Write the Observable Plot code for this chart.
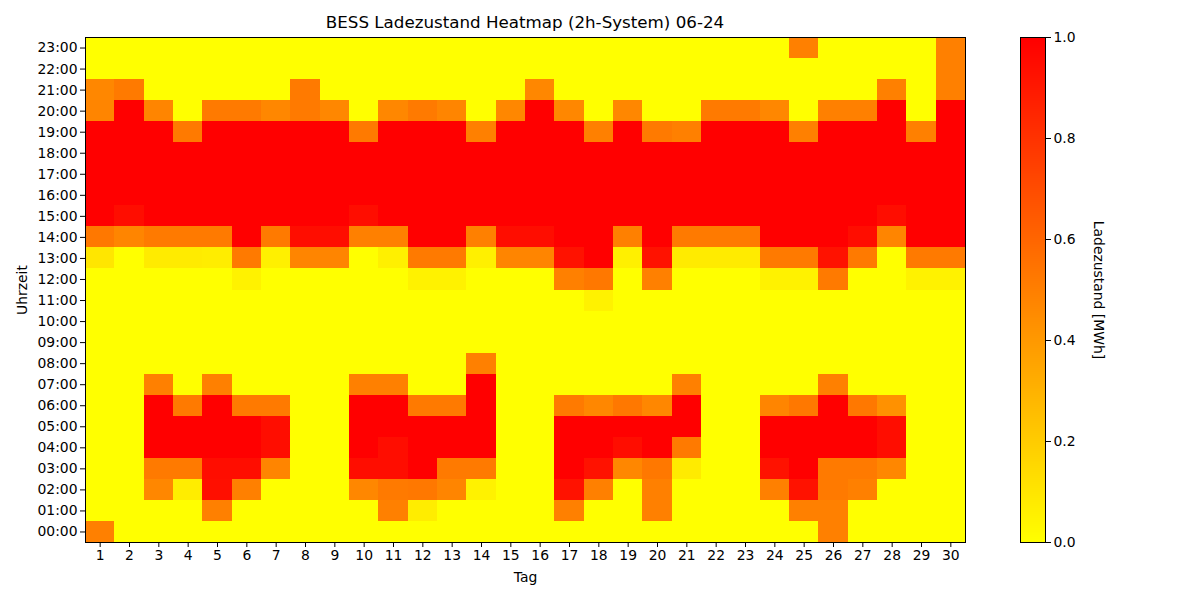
<!DOCTYPE html>
<html><head><meta charset="utf-8">
<script src="https://cdn.jsdelivr.net/npm/d3@7"></script>
<script src="https://cdn.jsdelivr.net/npm/@observablehq/plot@0.6"></script>
<style>
body{margin:0;background:#fff;font-family:"DejaVu Sans",sans-serif;}
#wrap{position:relative;width:1200px;height:600px;overflow:hidden;}
#title{position:absolute;left:85px;width:880px;top:12px;text-align:center;font-size:16.7px;color:#000;}
#main,#cbar{position:absolute;left:0;top:0;}
</style></head><body>
<div id="wrap"><div id="main"></div><div id="cbar"></div><div id="title">BESS Ladezustand Heatmap (2h-System) 06-24</div></div>
<script>
const days = [1,2,3,4,5,6,7,8,9,10,11,12,13,14,15,16,17,18,19,20,21,22,23,24,25,26,27,28,29,30];
const hourLabels = ["00:00","01:00","02:00","03:00","04:00","05:00","06:00","07:00","08:00","09:00","10:00","11:00","12:00","13:00","14:00","15:00","16:00","17:00","18:00","19:00","20:00","21:00","22:00","23:00"];
const colorTicks = [0,0.2,0.4,0.6,0.8,1.0];

// state of charge per hour (days 1..30)
const h00 = [.5,0,0,0,0,0,0,0,0,0, 0,0,0,0,0,0,0,0,0,0, 0,0,0,0,0,.5,0,0,0,0];
const h01 = [0,0,0,0,.5,0,0,0,0,0, .5,.07,0,0,0,0,.5,0,0,.5, 0,0,0,0,.5,.5,0,0,0,0];
const h02 = [0,0,.47,.07,.94,.5,0,0,0,.47, .52,.53,.48,.05,0,0,.93,.5,0,.5, 0,0,0,.5,.93,.52,.5,0,0,0];
const h03 = [0,0,.52,.52,.95,.95,.48,0,0,.95, .95,1,.52,.52,0,0,1,.93,.47,.53, .08,0,0,.93,1,.52,.52,.47,0,0];
const h04 = [0,0,1,1,1,1,.95,0,0,1, .95,1,1,1,0,0,1,1,.95,1, .52,0,0,1,1,1,1,.95,0,0];
const h05 = [0,0,1,1,1,1,.95,0,0,1, 1,1,1,1,0,0,1,1,1,1, 1,0,0,1,1,1,1,.95,0,0];
const h06 = [0,0,1,.52,1,.52,.52,0,0,1, 1,.52,.52,1,0,0,.52,.47,.53,.47, 1,0,0,.48,.53,1,.53,.43,0,0];
const h07 = [0,0,.5,0,.5,0,0,0,0,.5, .5,0,0,1,0,0,0,0,0,0, .5,0,0,0,0,.5,0,0,0,0];
const h08 = [0,0,0,0,0,0,0,0,0,0, 0,0,0,.5,0,0,0,0,0,0, 0,0,0,0,0,0,0,0,0,0];
const h09 = [0,0,0,0,0,0,0,0,0,0, 0,0,0,0,0,0,0,0,0,0, 0,0,0,0,0,0,0,0,0,0];
const h10 = [0,0,0,0,0,0,0,0,0,0, 0,0,0,0,0,0,0,0,0,0, 0,0,0,0,0,0,0,0,0,0];
const h11 = [0,0,0,0,0,0,0,0,0,0, 0,0,0,0,0,0,0,.05,0,0, 0,0,0,0,0,0,0,0,0,0];
const h12 = [0,0,0,0,0,.05,0,0,0,0, 0,.05,.05,0,0,0,.5,.53,0,.5, 0,0,0,.05,.05,.52,0,0,.05,.05];
const h13 = [.1,0,.08,.08,.07,.52,.06,.48,.48,0, .06,.52,.52,.06,.48,.48,.93,1,.06,.93, .08,.08,.08,.52,.52,.93,.52,0,.52,.52];
const h14 = [.53,.48,.52,.52,.52,1,.52,.95,.95,.5, .5,1,1,.5,.95,.95,1,1,.5,1, .52,.52,.52,1,1,1,.95,.48,1,1];
const h15 = [1,.95,1,1,1,1,1,1,1,.95, 1,1,1,1,1,1,1,1,1,1, 1,1,1,1,1,1,1,.95,1,1];
const h16 = [1,1,1,1,1,1,1,1,1,1, 1,1,1,1,1,1,1,1,1,1, 1,1,1,1,1,1,1,1,1,1];
const h17 = [1,1,1,1,1,1,1,1,1,1, 1,1,1,1,1,1,1,1,1,1, 1,1,1,1,1,1,1,1,1,1];
const h18 = [1,1,1,1,1,1,1,1,1,1, 1,1,1,1,1,1,1,1,1,1, 1,1,1,1,1,1,1,1,1,1];
const h19 = [1,1,1,.52,1,1,1,1,1,.52, 1,1,1,.5,1,1,1,.5,1,.52, .5,1,1,1,.5,1,1,1,.5,1];
const h20 = [.48,1,.48,0,.52,.52,.47,.52,.47,0, .47,.52,.48,0,.47,1,.47,0,.47,0, 0,.52,.52,.47,0,.5,.5,1,0,1];
const h21 = [.47,.52,0,0,0,0,0,.52,0,0, 0,0,0,0,0,.47,0,0,0,0, 0,0,0,0,0,0,0,.5,0,.5];
const h22 = [0,0,0,0,0,0,0,0,0,0, 0,0,0,0,0,0,0,0,0,0, 0,0,0,0,0,0,0,0,0,.5];
const h23 = [0,0,0,0,0,0,0,0,0,0, 0,0,0,0,0,0,0,0,0,0, 0,0,0,0,.5,0,0,0,0,.5];

const rows = [h00,h01,h02,h03,h04,h05,h06,h07,h08,h09,h10,h11,h12,h13,h14,h15,h16,h17,h18,h19,h20,h21,h22,h23];
const data = [];
rows.forEach((r, hi) => r.forEach((v, di) => data.push({day: days[di], hour: hourLabels[hi], value: v})));

const colorOpt = {type: "linear", domain: [0, 1], range: ["#ffff00", "#ff0000"], interpolate: "rgb"};
const font = {fontFamily: "DejaVu Sans", fontSize: "13.9px", color: "#000", background: "transparent", overflow: "visible"};

const main = Plot.plot({
  width: 1200, height: 600,
  marginLeft: 85, marginRight: 235, marginTop: 37, marginBottom: 58,
  style: font,
  x: {type: "band", domain: days, padding: 0, round: false},
  y: {type: "band", domain: [...hourLabels].reverse(), padding: 0, round: false},
  color: colorOpt,
  marks: [
    Plot.cell(data, {x: "day", y: "hour", fill: "value", inset: 0, shapeRendering: "crispEdges"}),
    Plot.frame({stroke: "#000", strokeWidth: 1}),
    Plot.axisX({tickSize: 5, tickPadding: 3, label: "Tag", labelAnchor: "center", labelArrow: "none", labelOffset: 39, fontSize: 13.9}),
    Plot.axisY({tickSize: 5, tickPadding: 3, label: "Uhrzeit", labelAnchor: "center", labelArrow: "none", labelOffset: 68, fontSize: 13.9})
  ]
});
document.getElementById("main").appendChild(main);

const cbar = Plot.plot({
  width: 1200, height: 600,
  marginLeft: 1020, marginRight: 155, marginTop: 37, marginBottom: 58,
  style: font,
  x: {domain: [0, 1], axis: null},
  y: {domain: [0, 1]},
  color: colorOpt,
  marks: [
    Plot.raster({x1: 0, x2: 1, y1: 0, y2: 1, width: 1, height: 256, fill: (x, y) => y, imageRendering: "auto"}),
    Plot.frame({stroke: "#000", strokeWidth: 1}),
    Plot.axisY({anchor: "right", ticks: colorTicks, tickFormat: d3.format(".1f"), tickSize: 5, tickPadding: 3, label: null, fontSize: 13.9}),
    Plot.text(["Ladezustand [MWh]"], {frameAnchor: "right", dx: 53, rotate: 90, textAnchor: "middle", lineAnchor: "middle", fontSize: 13.9, fill: "#000"})
  ]
});
document.getElementById("cbar").appendChild(cbar);
</script>
</body></html>
